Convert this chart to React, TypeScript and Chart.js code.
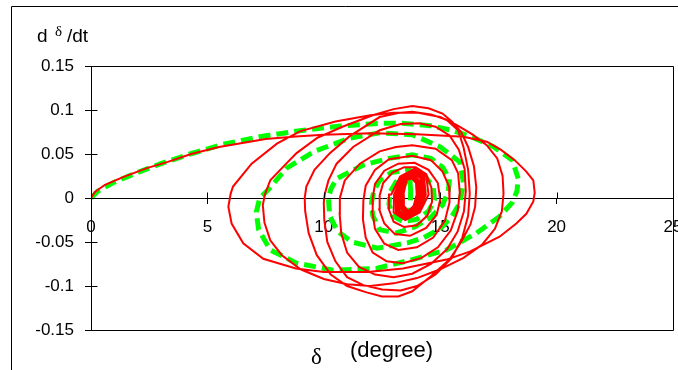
import React, { useEffect, useRef } from "react";
import { Chart, registerables } from "chart.js";

Chart.register(...registerables);

type P = [number, number];

// Tick values / labels
const xTickValues = [0, 5, 10, 15, 20, 25];
const xTickLabels = ["0", "5", "10", "15", "20", "25"];
const yTickValues = [-0.15, -0.1, -0.05, 0, 0.05, 0.1, 0.15];
const yTickLabels = ["-0.15", "-0.1", "-0.05", "0", "0.05", "0.1", "0.15"];

// Red (solid) trajectory, split by swing
const redSwing1: P[] = [
  [0, 0], [0.17, 0.007], [0.6, 0.015], [1.4, 0.024], [2.4, 0.034], [3.3, 0.041], [4.3, 0.05], [5.5, 0.058],
  [7.5, 0.067], [8.8, 0.07], [10, 0.072], [12, 0.0735], [14, 0.0725], [16, 0.0697], [17, 0.064], [17.6, 0.055],
  [18.2, 0.043], [18.7, 0.03], [19.0, 0.02], [19.06, 0.006], [19.0, -0.004], [18.7, -0.018], [18.27, -0.029],
  [17.55, -0.044], [16.27, -0.061], [15.27, -0.07], [13.4, -0.08], [12, -0.0837], [10, -0.084], [8.8, -0.08],
  [7.4, -0.069], [6.54, -0.0515], [6.04, -0.029], [5.9, -0.01], [6.0, 0.005],
];
const redLoop2: P[] = [
  [6.1, 0.013], [6.9, 0.039], [8, 0.062], [9, 0.076], [10.5, 0.087], [12, 0.094], [13, 0.097], [14, 0.097],
  [15, 0.092], [15.7, 0.083], [16.4, 0.072], [17, 0.06], [17.45, 0.045], [17.68, 0.025], [17.72, 0.005],
  [17.65, -0.015], [17.35, -0.035], [16.8, -0.053], [16, -0.068], [15, -0.081], [14, -0.091], [13, -0.097],
  [12, -0.1], [11, -0.098], [10, -0.092], [9, -0.081], [8.2, -0.065], [7.7, -0.048], [7.45, -0.028], [7.38, -0.008],
];
const redLoop3: P[] = [
  [7.47, 0.004], [7.7, 0.02], [8.2, 0.034], [8.83, 0.051], [9.7, 0.068], [10.8, 0.081], [12.1, 0.094], [13, 0.101],
  [13.8, 0.1045], [14.5, 0.102], [15.1, 0.096], [15.5, 0.087], [15.9, 0.075], [16.2, 0.058], [16.45, 0.036],
  [16.55, 0.012], [16.5, -0.01], [16.3, -0.03], [15.9, -0.05], [15.4, -0.07], [14.6, -0.089], [13.8, -0.106],
  [13.2, -0.112], [12.5, -0.112], [11.8, -0.107], [11, -0.1], [10.3, -0.087], [9.7, -0.065], [9.35, -0.04], [9.2, -0.015],
];
const redLoop4: P[] = [
  [9.18, 0.0], [9.25, 0.013], [9.6, 0.032], [10.26, 0.051], [11.1, 0.07], [12.4, 0.092], [13.3, 0.097], [13.8, 0.098],
  [14.6, 0.095], [15.27, 0.089], [15.77, 0.077], [16, 0.058], [16.2, 0.032], [16.27, 0.005], [16.2, -0.02],
  [15.95, -0.045], [15.5, -0.068], [14.8, -0.087], [14, -0.1], [13.3, -0.105], [12.5, -0.104], [11.7, -0.099],
  [11, -0.09], [10.5, -0.072], [10.15, -0.05], [10.02, -0.025], [10.0, -0.005],
];
const redLoop5: P[] = [
  [10.04, 0.004], [10.2, 0.02], [10.55, 0.039], [11.26, 0.058], [12.4, 0.077], [13.3, 0.084], [14.1, 0.085],
  [14.8, 0.081], [15.4, 0.071], [15.8, 0.055], [16.05, 0.033], [16.1, 0.008], [16.02, -0.015], [15.75, -0.038],
  [15.3, -0.058], [14.6, -0.075], [13.8, -0.086], [13, -0.09], [12.2, -0.087], [11.5, -0.078], [11, -0.062],
  [10.75, -0.04], [10.68, -0.018], [10.69, 0.0],
];
const redLoop6: P[] = [
  [10.9, 0.02], [11.55, 0.039], [12.4, 0.053], [13.1, 0.058], [13.8, 0.06], [14.8, 0.056], [15.5, 0.043],
  [15.77, 0.028], [15.84, 0.006], [15.75, -0.015], [15.45, -0.037], [14.9, -0.056], [14.2, -0.068], [13.4, -0.074],
  [12.7, -0.072], [12.1, -0.062], [11.8, -0.045], [11.68, -0.024], [11.7, -0.003],
];
const redLoop7: P[] = [
  [11.8, 0.014], [12.2, 0.032], [12.8, 0.044], [13.8, 0.048], [14.6, 0.043], [15.1, 0.03], [15.38, 0.013],
  [15.4, -0.005], [15.2, -0.026], [14.7, -0.045], [14, -0.056], [13.2, -0.059], [12.6, -0.052], [12.2, -0.035],
  [12.08, -0.015], [12.1, 0.0],
];
const redLoop8: P[] = [
  [12.2, 0.016], [12.6, 0.031], [13.2, 0.039], [13.9, 0.04], [14.5, 0.032], [14.9, 0.017], [15.0, -0.002],
  [14.85, -0.019], [14.4, -0.034], [13.7, -0.043], [13.05, -0.041], [12.6, -0.029], [12.38, -0.013], [12.4, 0.003],
];
const redLoop9: P[] = [
  [12.55, 0.017], [12.95, 0.029], [13.45, 0.035], [13.95, 0.035], [14.4, 0.027], [14.62, 0.012], [14.65, -0.004],
  [14.45, -0.02], [14.0, -0.031], [13.45, -0.033], [13.0, -0.027], [12.78, -0.012], [12.8, 0.004],
];
const redLoop10: P[] = [
  [12.9, 0.004], [13.28, 0.0245], [13.9, 0.033], [14.4, 0.0245], [14.5, 0.004], [14.12, -0.0165], [13.5, -0.025], [13.0, -0.0165],
];
const redCore: P[] = [
  [13.02, 0.004], [13.34, 0.024], [13.87, 0.032], [14.3, 0.024], [14.38, 0.004], [14.06, -0.016], [13.53, -0.024], [13.1, -0.016],
  [13.1, 0.004], [13.38, 0.023], [13.85, 0.031], [14.23, 0.023], [14.3, 0.004], [14.02, -0.015], [13.55, -0.023], [13.17, -0.015],
  [13.17, 0.004], [13.42, 0.022], [13.83, 0.029], [14.17, 0.022], [14.23, 0.004], [13.98, -0.014], [13.57, -0.021], [13.23, -0.014],
  [13.24, 0.004], [13.46, 0.02], [13.82, 0.027], [14.1, 0.02], [14.16, 0.004], [13.94, -0.012], [13.59, -0.019], [13.3, -0.012],
  [13.3, 0.004], [13.49, 0.019], [13.8, 0.025], [14.05, 0.019], [14.1, 0.004], [13.91, -0.011], [13.6, -0.017], [13.35, -0.011],
  [13.36, 0.004], [13.52, 0.018], [13.79, 0.024], [14.0, 0.018], [14.04, 0.004], [13.88, -0.01], [13.62, -0.016], [13.4, -0.01],
  [13.42, 0.004], [13.53, 0.017], [13.77, 0.023], [13.96, 0.017], [13.99, 0.004], [13.86, -0.009], [13.63, -0.015], [13.44, -0.009],
  [13.44, 0.004],
];

// Green (dashed) trajectory
const greenSwing1: P[] = [
  [0, 0], [0.3, 0.008], [1, 0.018], [2, 0.029], [3, 0.039], [4.25, 0.05], [5.68, 0.061], [7.25, 0.0697],
  [8.97, 0.0765], [10.7, 0.0818], [12.5, 0.085], [13.3, 0.085], [14.6, 0.082], [15.5, 0.077], [16.3, 0.07],
  [17.3, 0.058], [18.1, 0.043], [18.35, 0.022], [18.3, 0.008], [18.1, -0.005], [17.55, -0.021], [16.55, -0.04],
  [15.27, -0.059], [13.8, -0.07], [12.26, -0.08], [10.4, -0.082], [8.83, -0.074], [7.7, -0.059], [7.2, -0.036],
  [7.1, -0.016], [7.25, 0.0],
];
const greenLoop2: P[] = [
  [7.6, 0.009], [8.4, 0.034], [9.6, 0.053], [11.1, 0.068], [12.4, 0.074], [13.8, 0.072], [15, 0.058], [15.84, 0.041],
  [16.0, 0.017], [15.84, -0.006], [15.5, -0.021], [15.0, -0.035], [14.3, -0.045], [13.6, -0.051], [12.3, -0.057],
  [11.2, -0.05], [10.6, -0.038], [10.25, -0.02], [10.2, 0.0],
];
const greenLoop3: P[] = [
  [10.3, 0.01], [10.55, 0.022], [11.7, 0.0375], [12.8, 0.045], [13.8, 0.049], [14.6, 0.045], [15.1, 0.035],
  [15.4, 0.022], [15.35, 0.008], [15.1, -0.008], [14.6, -0.022], [13.9, -0.033], [13.1, -0.04], [12.4, -0.036],
  [12.1, -0.02], [12.05, -0.005],
];
const greenLoop4: P[] = [
  [12.15, 0.008], [12.4, 0.02], [12.9, 0.029], [13.6, 0.032], [14.3, 0.026], [14.7, 0.013], [14.75, -0.002],
  [14.5, -0.015], [14.0, -0.024], [13.4, -0.027], [12.95, -0.02], [12.8, -0.007],
  [12.85, 0.007], [13.1, 0.018], [13.5, 0.024], [14.0, 0.021], [14.3, 0.009], [14.25, -0.005], [13.9, -0.014],
  [13.4, -0.014], [13.15, -0.004], [13.3, 0.01], [13.55, 0.019],
];
const greenCenter: P[] = [[13.7, 0.02], [13.73, 0.008], [13.72, -0.004]];

const redPath: P[] = [
  ...redSwing1, ...redLoop2, ...redLoop3, ...redLoop4, ...redLoop5, ...redLoop6, ...redLoop7, ...redLoop8,
  ...redLoop9, ...redLoop10, ...redCore,
];
const greenPath: P[] = [...greenSwing1, ...greenLoop2, ...greenLoop3, ...greenLoop4];

const SANS = '"Liberation Sans", Arial, sans-serif';
const SERIF = '"Liberation Serif", "DejaVu Serif", serif';

const decorPlugin = {
  id: "decor",
  beforeDraw(chart: any) {
    const ctx = chart.ctx;
    ctx.save();
    ctx.strokeStyle = "#000";
    ctx.lineWidth = 1;
    ctx.beginPath();
    ctx.moveTo(11.5, 400);
    ctx.lineTo(11.5, 6.5);
    ctx.lineTo(700, 6.5);
    ctx.stroke();
    ctx.restore();
  },
  afterDraw(chart: any) {
    const ctx = chart.ctx;
    const { left, right, top, bottom } = chart.chartArea;
    const xs = chart.scales.x;
    const ys = chart.scales.y;
    ctx.save();
    ctx.strokeStyle = "#000";
    ctx.lineWidth = 1;
    const L = Math.round(left) + 0.5, R = Math.round(right) + 0.5, T = Math.round(top) + 0.5, B = Math.round(bottom) + 0.5;
    ctx.beginPath();
    ctx.moveTo(L, T);
    ctx.lineTo(R, T);
    ctx.lineTo(R, B);
    ctx.lineTo(L, B);
    ctx.stroke();
    const y0 = Math.round(ys.getPixelForValue(0)) + 0.5;
    ctx.beginPath();
    xTickValues.forEach((v) => {
      const px = Math.round(xs.getPixelForValue(v)) + 0.5;
      ctx.moveTo(px, y0 - 6);
      ctx.lineTo(px, y0);
    });
    yTickValues.forEach((v) => {
      const py = Math.round(ys.getPixelForValue(v)) + 0.5;
      ctx.moveTo(L, py);
      ctx.lineTo(L + 6, py);
    });
    ctx.stroke();
    ctx.fillStyle = "#000";
    ctx.textBaseline = "alphabetic";
    ctx.textAlign = "left";
    ctx.font = `19px ${SANS}`;
    ctx.fillText("d", 37, 42);
    ctx.fillText("/dt", 67, 42);
    ctx.font = `15px ${SERIF}`;
    ctx.fillText("δ", 55, 36);
    ctx.font = `23px ${SERIF}`;
    ctx.fillText("δ", 311, 364);
    ctx.font = `22px ${SANS}`;
    ctx.fillText("(degree)", 350, 357);
    ctx.restore();
  },
};

export default function App() {
  const ref = useRef<HTMLCanvasElement | null>(null);
  useEffect(() => {
    document.body.style.margin = "0";
    const canvas = ref.current;
    if (!canvas) return;
    const greenStyle = {
      showLine: true,
      borderColor: "#00ff00",
      borderWidth: 5,
      borderDash: [12, 6],
      pointRadius: 0,
      tension: 0,
    };
    const chart = new Chart(canvas, {
      type: "scatter",
      data: {
        datasets: [
          {
            label: "red",
            data: redPath.map(([x, y]) => ({ x, y })),
            showLine: true,
            borderColor: "#ff0000",
            borderWidth: 2,
            pointRadius: 0,
            tension: 0,
          },
          { label: "green", data: greenPath.map(([x, y]) => ({ x, y })), ...greenStyle },
          { label: "green centre", data: greenCenter.map(([x, y]) => ({ x, y })), ...greenStyle, borderDash: [20, 4], order: -1 },
        ],
      },
      options: {
        responsive: false,
        animation: false,
        events: [],
        layout: { padding: { left: 0, top: 66, right: 5, bottom: 40 } },
        plugins: { legend: { display: false }, tooltip: { enabled: false }, title: { display: false } },
        scales: {
          x: {
            type: "linear",
            position: { y: 0 } as any,
            min: 0,
            max: 25,
            afterBuildTicks: (s: any) => {
              s.ticks = xTickValues.map((v) => ({ value: v }));
            },
            afterFit: (s: any) => {
              s.paddingLeft = 0;
              s.paddingRight = 0;
            },
            ticks: {
              color: "#000",
              font: { family: SANS, size: 17 },
              padding: 14,
              maxRotation: 0,
              autoSkip: false,
              callback: (_v: any, i: number) => xTickLabels[i],
            },
            grid: { display: true, drawOnChartArea: false, drawTicks: true, tickLength: 5, color: "#000", lineWidth: 1 },
            border: { display: true, color: "#000", width: 1 },
          },
          y: {
            type: "linear",
            position: "left",
            min: -0.15,
            max: 0.15,
            afterBuildTicks: (s: any) => {
              s.ticks = yTickValues.map((v) => ({ value: v }));
            },
            afterFit: (s: any) => {
              s.width = 91;
            },
            ticks: {
              color: "#000",
              font: { family: SANS, size: 17 },
              padding: 11,
              autoSkip: false,
              callback: (_v: any, i: number) => yTickLabels[i],
            },
            grid: { display: true, drawOnChartArea: false, drawTicks: true, tickLength: 6, color: "#000", lineWidth: 1 },
            border: { display: true, color: "#000", width: 1 },
          },
        },
      },
      plugins: [decorPlugin],
    });
    return () => chart.destroy();
  }, []);
  return (
    <div style={{ width: 678, height: 370, background: "#fff" }}>
      <canvas ref={ref} width={678} height={370} style={{ display: "block" }} />
    </div>
  );
}
